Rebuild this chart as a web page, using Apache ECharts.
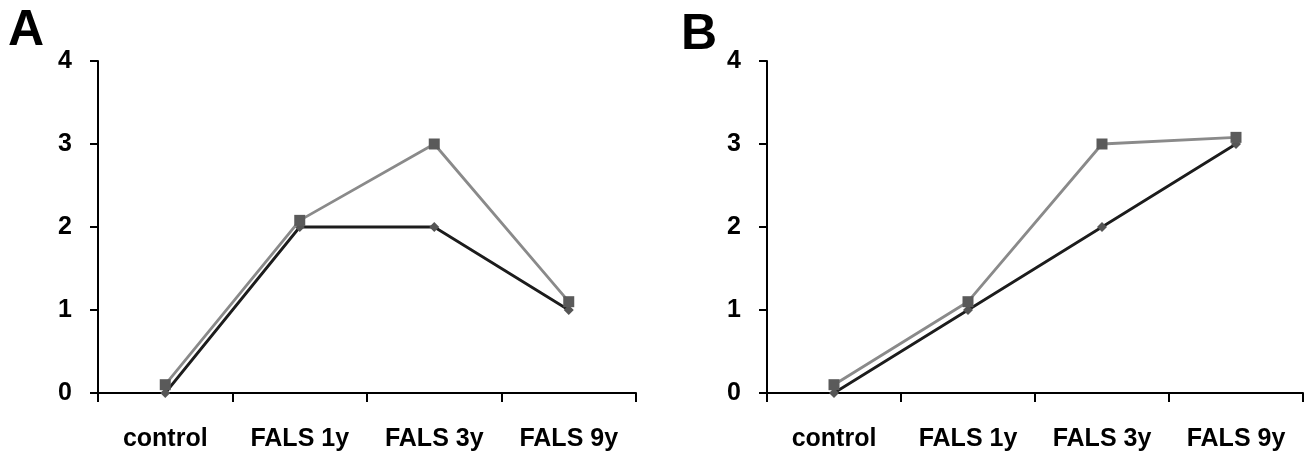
<!DOCTYPE html>
<html>
<head>
<meta charset="utf-8">
<script src="https://cdn.jsdelivr.net/npm/echarts@6/dist/echarts.min.js"></script>
<style>html,body{margin:0;padding:0;background:#fff}#c{width:1313px;height:453px}</style>
</head>
<body>
<div id="c"></div>
<script>
const categories = ['control', 'FALS 1y', 'FALS 3y', 'FALS 9y'];
const yTicks = [0, 1, 2, 3, 4];
const panelLabels = ['A', 'B'];
const darkA = [0, 2, 2, 1];
const grayA = [0.1, 2.08, 3, 1.1];
const darkB = [0, 1, 2, 3];
const grayB = [0.1, 1.1, 3, 3.08];

const FONT = '"Liberation Sans", Arial, sans-serif';
const chart = echarts.init(document.getElementById('c'), null, {renderer: 'canvas'});

function xAx(i) {
  return {
    type: 'category', gridIndex: i, data: categories, boundaryGap: true,
    axisLine: {lineStyle: {color: '#000', width: 2}},
    axisTick: {show: true, length: 9, lineStyle: {color: '#000', width: 2}},
    axisLabel: {color: '#000', fontFamily: FONT, fontWeight: 'bold', fontSize: 25, margin: 34},
    splitLine: {show: false}
  };
}
function yAx(i) {
  return {
    type: 'value', gridIndex: i, min: yTicks[0], max: yTicks[yTicks.length - 1], interval: 1,
    axisLine: {show: true, lineStyle: {color: '#000', width: 2}},
    axisTick: {show: true, length: 8, lineStyle: {color: '#000', width: 2}},
    axisLabel: {color: '#000', fontFamily: FONT, fontWeight: 'bold', fontSize: 25, margin: 26},
    splitLine: {show: false}
  };
}
function darkS(i, d) {
  return {type: 'line', xAxisIndex: i, yAxisIndex: i, data: d, symbol: 'diamond', symbolSize: 10,
    lineStyle: {color: '#1c1c1c', width: 2.8}, itemStyle: {color: '#555'}, z: 2, animation: false};
}
function grayS(i, d) {
  return {type: 'line', xAxisIndex: i, yAxisIndex: i, data: d, symbol: 'rect', symbolSize: 11,
    lineStyle: {color: '#8a8a8a', width: 2.8}, itemStyle: {color: '#5a5a5a'}, z: 3, animation: false};
}

chart.setOption({
  animation: false,
  title: [
    {text: panelLabels[0], left: 3, top: 1, textStyle: {fontFamily: FONT, fontWeight: 'bold', fontSize: 50, color: '#000'}},
    {text: panelLabels[1], left: 676, top: 5, textStyle: {fontFamily: FONT, fontWeight: 'bold', fontSize: 50, color: '#000'}}
  ],
  grid: [
    {left: 98, top: 61, width: 538, height: 332},
    {left: 767, top: 61, width: 536, height: 332}
  ],
  xAxis: [xAx(0), xAx(1)],
  yAxis: [yAx(0), yAx(1)],
  series: [darkS(0, darkA), grayS(0, grayA), darkS(1, darkB), grayS(1, grayB)]
});
</script>
</body>
</html>
